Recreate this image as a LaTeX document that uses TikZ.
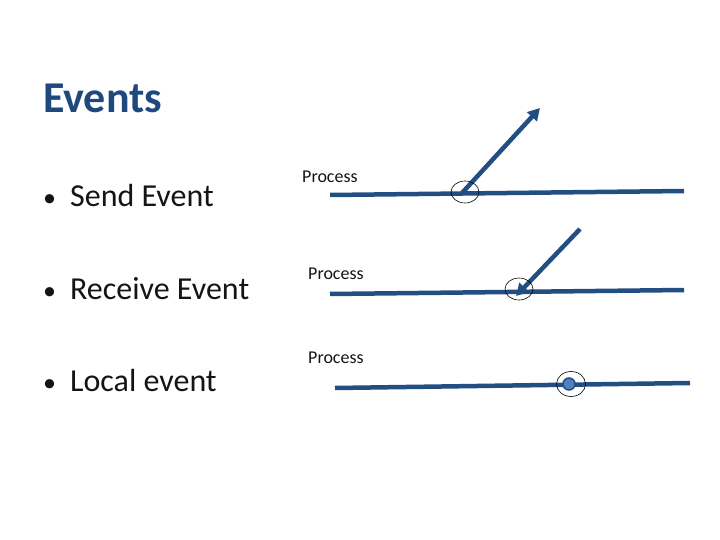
\documentclass[tikz,border=0pt]{standalone}
\usepackage{fontspec}
\setmainfont{Carlito}
\usetikzlibrary{arrows.meta,shapes.geometric}
\definecolor{ttl}{RGB}{31,73,125}
\definecolor{ln}{RGB}{35,78,130}
\definecolor{dot}{RGB}{79,129,189}
\definecolor{txt}{RGB}{20,20,20}
\begin{document}
\begin{tikzpicture}[x=1pt,y=-1pt,
  proc/.style={draw=ln,line width=4.5pt},
  evarrow/.style={draw=ln,line width=4.5pt,-{Triangle[length=12pt,width=13pt]}},
  ring/.style={draw=black,line width=0.6pt},
  bul/.style={anchor=base west,text=txt,font=\fontsize{32}{36}\selectfont,inner sep=0pt},
  plabel/.style={anchor=base west,text=txt,font=\fontsize{18}{20}\selectfont,inner sep=0pt}]
\useasboundingbox (0,0) rectangle (720,540);
\node[anchor=base west,inner sep=0pt,text=ttl,font=\fontsize{44}{48}\selectfont\bfseries] (title) at (43,113) {Events};
\node[bul] (b1) at (43,207) {{\fontsize{26}{30}\selectfont•}\hspace{14pt}Send Event};
\node[bul] (b2) at (43,299) {{\fontsize{26}{30}\selectfont•}\hspace{14pt}Receive Event};
\node[bul] (b3) at (43,391) {{\fontsize{26}{30}\selectfont•}\hspace{14pt}Local event};
\node[plabel] (p1) at (302,183) {Process};
\node[plabel] (p2) at (308,279) {Process};
\node[plabel] (p3) at (308,363) {Process};
% process 1
\coordinate (a1) at (330,195); \coordinate (a2) at (684,191);
\draw[proc] (a1) -- (a2);
\coordinate (s) at (462,193); \coordinate (st) at (540,108);
\draw[evarrow] (s) -- (st);
\node[ring,ellipse,minimum width=28pt,minimum height=22pt,inner sep=0pt] (c1) at (465,192) {};
% process 2
\coordinate (b1s) at (330,294); \coordinate (b2e) at (684,290);
\draw[proc] (b1s) -- (b2e);
\coordinate (r) at (580,229); \coordinate (rt) at (516,296);
\draw[evarrow] (r) -- (rt);
\node[ring,ellipse,minimum width=28pt,minimum height=22pt,inner sep=0pt] (c2) at (519,289) {};
% process 3
\coordinate (c1s) at (335,388); \coordinate (c2e) at (690,383);
\draw[proc] (c1s) -- (c2e);
\node[circle,fill=dot,draw=ln,line width=1.5pt,minimum size=12pt,inner sep=0pt] (d) at (569,384) {};
\node[ring,ellipse,minimum width=29pt,minimum height=25pt,inner sep=0pt] (c3) at (571,384) {};
\end{tikzpicture}
\end{document}
